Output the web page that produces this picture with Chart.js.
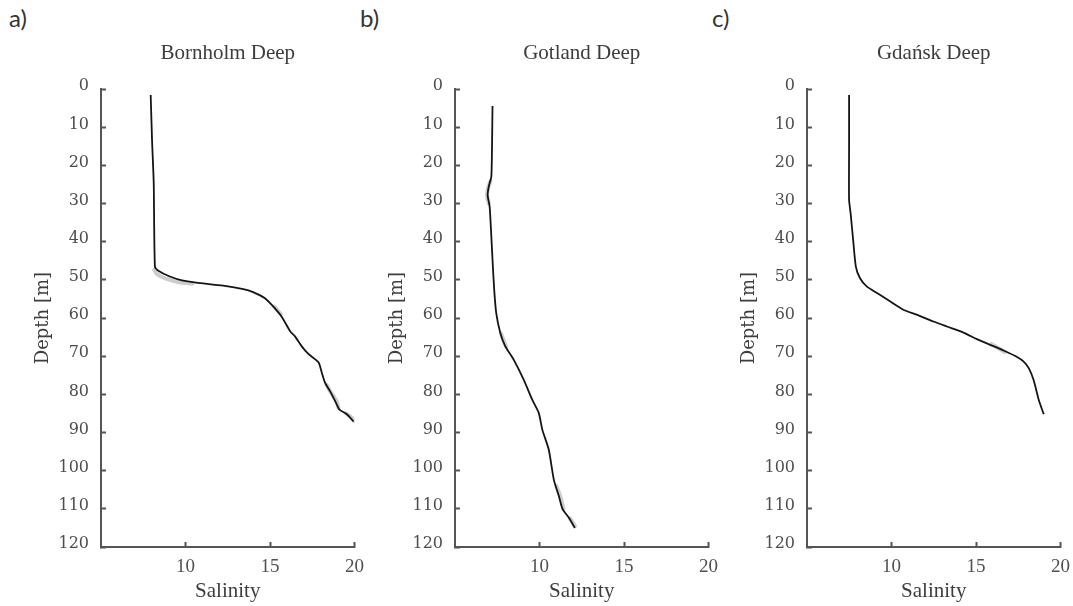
<!DOCTYPE html>
<html><head><meta charset="utf-8">
<script src="https://cdn.jsdelivr.net/npm/chart.js@4.4.1/dist/chart.umd.min.js"></script>
<style>
html,body{margin:0;padding:0;background:#fff;width:1073px;height:606px;overflow:hidden;position:relative;}
canvas.panel{position:absolute;top:0;}
.lab{position:absolute;font-family:Lato,'Open Sans',sans-serif;font-size:24px;color:#333;line-height:1;}
</style></head><body>
<div class="lab" style="left:9px;top:6px">a)</div>
<div class="lab" style="left:360px;top:6px">b)</div>
<div class="lab" style="left:712px;top:6px">c)</div>
<canvas id="ca" class="panel" width="377" height="606" style="left:1px"></canvas>
<canvas id="cb" class="panel" width="377" height="606" style="left:355px"></canvas>
<canvas id="cc" class="panel" width="377" height="606" style="left:707px"></canvas>
<script>
// tick labels
const depthTicks = [0,10,20,30,40,50,60,70,80,90,100,110,120];
const salinityTicks = [10,15,20];
const panelTitles = ['Bornholm Deep','Gotland Deep','Gdańsk Deep'];

// Bornholm Deep profile
const bornholmDepth    = [1.5,13.3,24.6,46.5,47.5,49.1,50.2,50.7,51.5,52.4,53.2,54.8,57.0,59.7,63.5,64.8,67.4,69.4,71.6,74.4,77.0,79.2,81.8,84.0,85.2,87.1];
const bornholmSalinity = [7.94,8.02,8.12,8.19,8.37,9.07,9.86,10.65,12.23,13.42,14.0,14.7,15.2,15.7,16.2,16.48,16.88,17.27,17.87,18.07,18.26,18.56,18.86,19.11,19.55,19.94];
const bornholmSpreadDepth    = [47.3,48.4,49.6,50.6,51.0,null,57.0,59.0,null,77.5,79.5,81.8,83.5,null,85.0,86.0,87.0];
const bornholmSpreadSalinity = [8.15,8.3,8.8,9.6,10.4,null,15.25,15.65,null,18.35,18.6,18.95,19.05,null,19.5,19.8,20.0];

// Gotland Deep profile
const gotlandDepth    = [4.4,15.0,22.9,25.3,27.7,30.8,36.9,44.7,52.6,58.7,63.9,67.4,70.9,76.2,81.4,84.9,89.3,94.5,102.4,106.7,110.0,112.4,115.0];
const gotlandSalinity = [7.22,7.19,7.15,7.01,6.93,7.05,7.13,7.22,7.32,7.44,7.68,7.98,8.47,9.07,9.57,9.96,10.17,10.55,10.85,11.15,11.36,11.75,12.09];
const gotlandSpreadDepth    = [24,26,28,30,null,64,67.5,null,104,107,110,null,112.5,114.5];
const gotlandSpreadSalinity = [7.1,6.95,6.9,7.0,null,7.72,8.02,null,11.0,11.25,11.42,null,11.8,12.1];

// Gdańsk Deep profile
const gdanskDepth    = [1.5,15.0,29.0,32.5,39.5,46.5,49.5,51.7,53.9,55.6,57.8,59.1,60.9,62.2,63.8,65.5,67.0,68.5,70.2,71.4,73.1,76.2,81.4,85.2];
const gdanskSalinity = [7.49,7.49,7.49,7.58,7.73,7.89,8.13,8.53,9.31,9.91,10.70,11.49,12.48,13.27,14.26,15.05,15.84,16.63,17.43,17.82,18.12,18.41,18.71,19.01];
const gdanskSpreadDepth    = [66.8,68.9];
const gdanskSpreadSalinity = [15.9,16.7];

function segments(sal, dep){
  const segs=[]; let cur=[];
  for(let i=0;i<sal.length;i++){
    if(sal[i]===null){ if(cur.length) segs.push(cur); cur=[]; }
    else cur.push({x:sal[i], y:dep[i]});
  }
  if(cur.length) segs.push(cur);
  return segs;
}

const AX='#555';
function makePanel(id, title, sal, dep, gSal, gDep){
  const ds = segments(gSal,gDep).map(s=>({data:s, showLine:true, borderColor:'rgba(185,185,185,0.7)', borderWidth:4, pointRadius:0, tension:0.3, borderCapStyle:'round', order:2}));
  ds.push({data:sal.map((s,i)=>({x:s,y:dep[i]})), showLine:true, borderColor:'#151515', borderWidth:1.8, pointRadius:0, tension:0.2, order:1});
  new Chart(document.getElementById(id), {
    type:'scatter',
    data:{datasets:ds},
    options:{
      responsive:false, animation:false, events:[],
      layout:{padding:{top:0,right:0,bottom:0,left:0}},
      plugins:{
        legend:{display:false}, tooltip:{enabled:false},
        title:{display:true, fullSize:false, text:title, color:'#3d3d3d', font:{family:'Liberation Serif', size:21, weight:'normal'}, padding:{top:41,bottom:23}}
      },
      scales:{
        x:{type:'linear', position:'bottom', min:5, max:20,
          afterBuildTicks:s=>{ s.ticks = salinityTicks.map(v=>({value:v})); },
          afterFit:s=>{ s.height = 59; },
          border:{display:true, color:AX, width:2},
          grid:{drawOnChartArea:false, drawTicks:true, tickLength:-5, tickColor:AX, tickWidth:2},
          ticks:{color:'#505050', padding:14, font:{family:'Liberation Serif', size:19}, maxRotation:0, autoSkip:false},
          title:{display:true, text:'Salinity', color:'#3d3d3d', font:{family:'Liberation Serif', size:21}, padding:{top:0,bottom:2}}
        },
        y:{type:'linear', position:'left', min:0, max:120, reverse:true,
          afterBuildTicks:s=>{ s.ticks = depthTicks.map(v=>({value:v})); },
          afterFit:s=>{ s.width = 100; },
          border:{display:true, color:AX, width:2},
          grid:{drawOnChartArea:false, drawTicks:true, tickLength:-5, tickColor:AX, tickWidth:2},
          ticks:{color:'#4d4d4d', padding:17, labelOffset:-3, font:{family:'DejaVu Serif', size:16}, autoSkip:false},
          title:{display:true, text:'Depth [m]', color:'#3d3d3d', font:{family:'DejaVu Serif', size:18}, padding:{top:32,bottom:0}}
        }
      }
    }
  });
}
makePanel('ca', panelTitles[0], bornholmSalinity, bornholmDepth, bornholmSpreadSalinity, bornholmSpreadDepth);
makePanel('cb', panelTitles[1], gotlandSalinity, gotlandDepth, gotlandSpreadSalinity, gotlandSpreadDepth);
makePanel('cc', panelTitles[2], gdanskSalinity, gdanskDepth, gdanskSpreadSalinity, gdanskSpreadDepth);
</script>
</body></html>
